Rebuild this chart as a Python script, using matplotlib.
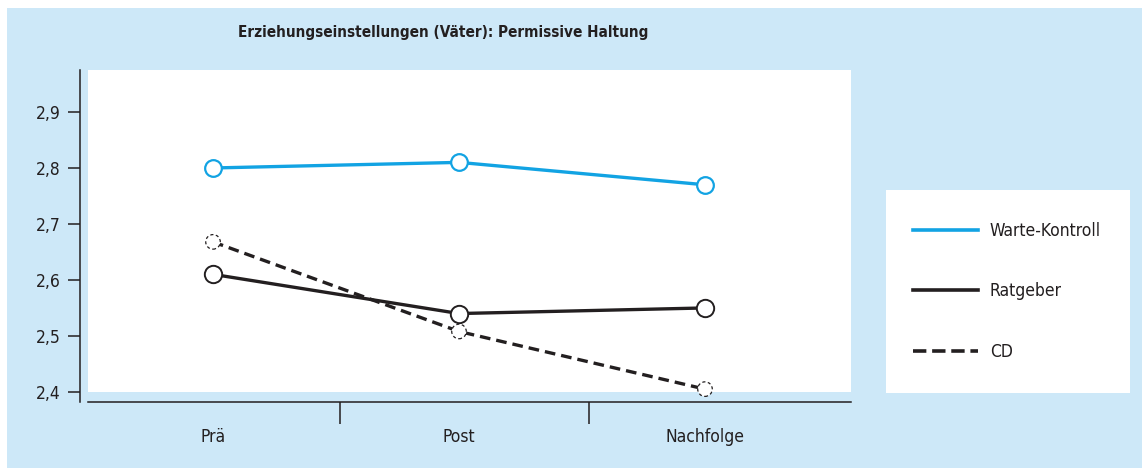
import matplotlib
matplotlib.use("Agg")
import matplotlib.pyplot as plt
from matplotlib.patches import Rectangle
from matplotlib import font_manager

# data
phases = ["Prä", "Post", "Nachfolge"]
warte = [2.80, 2.81, 2.77]
ratgeber = [2.61, 2.54, 2.55]
cd = [2.668, 2.508, 2.405]
yticks = [2.4, 2.5, 2.6, 2.7, 2.8, 2.9]

names = {f.name for f in font_manager.fontManager.ttflist}
condensed = [f.name for f in font_manager.fontManager.ttflist
             if f.stretch in ("condensed", "semi-condensed", "extra-condensed")
             or "Narrow" in f.name or "Condensed" in f.name]
if "Liberation Sans Narrow" in names:
    fam = "Liberation Sans Narrow"
elif condensed:
    fam = condensed[0]
else:
    fam = "Liberation Sans"
plt.rcParams["font.family"] = [fam, "DejaVu Sans"]
plt.rcParams["font.stretch"] = "condensed"

bg = "#cde8f8"
blue = "#12a3e3"
dark = "#231f20"
fs = 12.5

W, H = 1142, 468
fig = plt.figure(figsize=(W / 100, H / 100), dpi=100)
fig.patch.set_facecolor("white")

# light blue panel (leaves thin white strip at left/top)
fig.add_artist(Rectangle((7 / W, 0), 1, 1 - 8 / H, transform=fig.transFigure,
                         facecolor=bg, edgecolor="none", zorder=-10))

def fx(px):
    return px / W

def fy(py):
    return 1 - py / H

# main axes: left spine at x=80, bottom spine at y=402
ax = fig.add_axes([fx(80), fy(402), fx(851) - fx(80), fy(70) - fy(402)])
ax.set_facecolor(bg)
x = list(range(len(phases)))
ax.set_xlim(-0.5407, 2.5935)
ax.set_ylim(2.382, 2.975)

# white plotting field
ax.add_patch(Rectangle((-0.5075, 2.4), 3.2, 1, facecolor="white", edgecolor="none", zorder=0))

ax.plot(x, warte, color=blue, lw=2.4, marker="o", ms=12, mfc="white", mec=blue, mew=1.6,
        zorder=3, label="Warte-Kontroll")
ax.plot(x, ratgeber, color=dark, lw=2.4, marker="o", ms=12.5, mfc="white", mec=dark, mew=1.4,
        zorder=4, label="Ratgeber")
ax.plot(x, cd, color=dark, lw=2.4, ls=(0, (3.2, 1.8)), zorder=2, label="CD")
ax.scatter(x, cd, s=110, facecolor="white", edgecolor=dark, linewidths=0.9,
           linestyle=(0, (2.5, 2)), zorder=5)

for s in ["top", "right"]:
    ax.spines[s].set_visible(False)
ax.spines["left"].set_color(dark)
ax.spines["bottom"].set_color(dark)
ax.spines["left"].set_linewidth(1.1)
ax.spines["bottom"].set_linewidth(1.1)
ax.spines["bottom"].set_bounds(-0.5075, 2.5935)

ax.set_yticks(yticks)
ax.set_yticklabels([f"{v:.1f}".replace(".", ",") for v in yticks], fontsize=fs, color=dark)
ax.tick_params(axis="y", direction="out", length=9, width=1.1, pad=5, color=dark)

ax.set_xticks([0.515, 1.53])
ax.set_xticklabels([])
ax.tick_params(axis="x", direction="out", length=16, width=1.1, color=dark)
for i, p in enumerate(phases):
    ax.text(i, 2.382 - 0.062, p, ha="center", va="center", fontsize=fs, color=dark)

fig.text(fx(443), fy(33), "Erziehungseinstellungen (Väter): Permissive Haltung",
         ha="center", va="center", fontsize=11, fontweight="bold", color=dark)

# legend box
lax = fig.add_axes([fx(886), fy(393), fx(1130) - fx(886), fy(190) - fy(393)])
lax.set_facecolor("white")
lax.set_xticks([])
lax.set_yticks([])
for s in lax.spines.values():
    s.set_visible(False)
handles, labels = ax.get_legend_handles_labels()
leg_handles = [plt.Line2D([], [], color=h.get_color(), lw=2.6, ls=h.get_linestyle()) for h in handles]
lax.legend(leg_handles, labels, loc="center left", bbox_to_anchor=(0.045, 0.5), frameon=False,
           fontsize=fs, handlelength=3.75, handletextpad=0.7, labelspacing=2.45,
           labelcolor=dark)

fig.savefig("out.png", dpi=100, facecolor=fig.get_facecolor())
